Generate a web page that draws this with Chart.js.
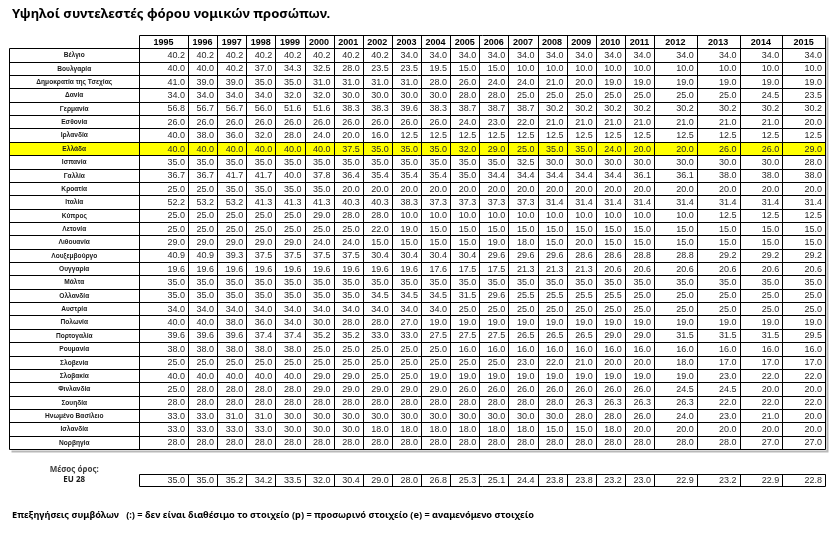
<!DOCTYPE html>
<html>
<head>
<meta charset="utf-8">
<script src="https://cdn.jsdelivr.net/npm/chart.js@4.4.1/dist/chart.umd.min.js"></script>
<style>
  html, body { margin: 0; padding: 0; background: #fff; }
  canvas { display: block; }
</style>
</head>
<body>
<canvas id="taxTable" width="830" height="536"></canvas>
<script>
// ---------------- DATA ----------------

const titleText = "Υψηλοί συντελεστές φόρου νομικών προσώπων.";
const noteText = "Επεξηγήσεις συμβόλων   (:) = δεν είναι διαθέσιμο το στοιχείο (p) = προσωρινό στοιχείο (e) = αναμενόμενο στοιχείο";

const years = ["1995", "1996", "1997", "1998", "1999", "2000", "2001", "2002", "2003", "2004", "2005",
               "2006", "2007", "2008", "2009", "2010", "2011", "2012", "2013", "2014", "2015"];

const countries = ["Βέλγιο", "Βουλγαρία", "Δημοκρατία της Τσεχίας", "Δανία", "Γερμανία", "Εσθονία",
                   "Ιρλανδία", "Ελλάδα", "Ισπανία", "Γαλλία", "Κροατία", "Ιταλία", "Κύπρος", "Λετονία",
                   "Λιθουανία", "Λουξεμβούργο", "Ουγγαρία", "Μάλτα", "Ολλανδία", "Αυστρία", "Πολωνία",
                   "Πορτογαλία", "Ρουμανία", "Σλοβενία", "Σλοβακία", "Φινλανδία", "Σουηδία",
                   "Ηνωμένο Βασίλειο", "Ισλανδία", "Νορβηγία"];

const belgium    = [40.2, 40.2, 40.2, 40.2, 40.2, 40.2, 40.2, 40.2, 34.0, 34.0, 34.0, 34.0, 34.0, 34.0, 34.0, 34.0, 34.0, 34.0, 34.0, 34.0, 34.0];
const bulgaria   = [40.0, 40.0, 40.2, 37.0, 34.3, 32.5, 28.0, 23.5, 23.5, 19.5, 15.0, 15.0, 10.0, 10.0, 10.0, 10.0, 10.0, 10.0, 10.0, 10.0, 10.0];
const czechia    = [41.0, 39.0, 39.0, 35.0, 35.0, 31.0, 31.0, 31.0, 31.0, 28.0, 26.0, 24.0, 24.0, 21.0, 20.0, 19.0, 19.0, 19.0, 19.0, 19.0, 19.0];
const denmark    = [34.0, 34.0, 34.0, 34.0, 32.0, 32.0, 30.0, 30.0, 30.0, 30.0, 28.0, 28.0, 25.0, 25.0, 25.0, 25.0, 25.0, 25.0, 25.0, 24.5, 23.5];
const germany    = [56.8, 56.7, 56.7, 56.0, 51.6, 51.6, 38.3, 38.3, 39.6, 38.3, 38.7, 38.7, 38.7, 30.2, 30.2, 30.2, 30.2, 30.2, 30.2, 30.2, 30.2];
const estonia    = [26.0, 26.0, 26.0, 26.0, 26.0, 26.0, 26.0, 26.0, 26.0, 26.0, 24.0, 23.0, 22.0, 21.0, 21.0, 21.0, 21.0, 21.0, 21.0, 21.0, 20.0];
const ireland    = [40.0, 38.0, 36.0, 32.0, 28.0, 24.0, 20.0, 16.0, 12.5, 12.5, 12.5, 12.5, 12.5, 12.5, 12.5, 12.5, 12.5, 12.5, 12.5, 12.5, 12.5];
const greece     = [40.0, 40.0, 40.0, 40.0, 40.0, 40.0, 37.5, 35.0, 35.0, 35.0, 32.0, 29.0, 25.0, 35.0, 35.0, 24.0, 20.0, 20.0, 26.0, 26.0, 29.0];
const spain      = [35.0, 35.0, 35.0, 35.0, 35.0, 35.0, 35.0, 35.0, 35.0, 35.0, 35.0, 35.0, 32.5, 30.0, 30.0, 30.0, 30.0, 30.0, 30.0, 30.0, 28.0];
const france     = [36.7, 36.7, 41.7, 41.7, 40.0, 37.8, 36.4, 35.4, 35.4, 35.4, 35.0, 34.4, 34.4, 34.4, 34.4, 34.4, 36.1, 36.1, 38.0, 38.0, 38.0];
const croatia    = [25.0, 25.0, 35.0, 35.0, 35.0, 35.0, 20.0, 20.0, 20.0, 20.0, 20.0, 20.0, 20.0, 20.0, 20.0, 20.0, 20.0, 20.0, 20.0, 20.0, 20.0];
const italy      = [52.2, 53.2, 53.2, 41.3, 41.3, 41.3, 40.3, 40.3, 38.3, 37.3, 37.3, 37.3, 37.3, 31.4, 31.4, 31.4, 31.4, 31.4, 31.4, 31.4, 31.4];
const cyprus     = [25.0, 25.0, 25.0, 25.0, 25.0, 29.0, 28.0, 28.0, 10.0, 10.0, 10.0, 10.0, 10.0, 10.0, 10.0, 10.0, 10.0, 10.0, 12.5, 12.5, 12.5];
const latvia     = [25.0, 25.0, 25.0, 25.0, 25.0, 25.0, 25.0, 22.0, 19.0, 15.0, 15.0, 15.0, 15.0, 15.0, 15.0, 15.0, 15.0, 15.0, 15.0, 15.0, 15.0];
const lithuania  = [29.0, 29.0, 29.0, 29.0, 29.0, 24.0, 24.0, 15.0, 15.0, 15.0, 15.0, 19.0, 18.0, 15.0, 20.0, 15.0, 15.0, 15.0, 15.0, 15.0, 15.0];
const luxembourg = [40.9, 40.9, 39.3, 37.5, 37.5, 37.5, 37.5, 30.4, 30.4, 30.4, 30.4, 29.6, 29.6, 29.6, 28.6, 28.6, 28.8, 28.8, 29.2, 29.2, 29.2];
const hungary    = [19.6, 19.6, 19.6, 19.6, 19.6, 19.6, 19.6, 19.6, 19.6, 17.6, 17.5, 17.5, 21.3, 21.3, 21.3, 20.6, 20.6, 20.6, 20.6, 20.6, 20.6];
const malta      = [35.0, 35.0, 35.0, 35.0, 35.0, 35.0, 35.0, 35.0, 35.0, 35.0, 35.0, 35.0, 35.0, 35.0, 35.0, 35.0, 35.0, 35.0, 35.0, 35.0, 35.0];
const netherlands= [35.0, 35.0, 35.0, 35.0, 35.0, 35.0, 35.0, 34.5, 34.5, 34.5, 31.5, 29.6, 25.5, 25.5, 25.5, 25.5, 25.0, 25.0, 25.0, 25.0, 25.0];
const austria    = [34.0, 34.0, 34.0, 34.0, 34.0, 34.0, 34.0, 34.0, 34.0, 34.0, 25.0, 25.0, 25.0, 25.0, 25.0, 25.0, 25.0, 25.0, 25.0, 25.0, 25.0];
const poland     = [40.0, 40.0, 38.0, 36.0, 34.0, 30.0, 28.0, 28.0, 27.0, 19.0, 19.0, 19.0, 19.0, 19.0, 19.0, 19.0, 19.0, 19.0, 19.0, 19.0, 19.0];
const portugal   = [39.6, 39.6, 39.6, 37.4, 37.4, 35.2, 35.2, 33.0, 33.0, 27.5, 27.5, 27.5, 26.5, 26.5, 26.5, 29.0, 29.0, 31.5, 31.5, 31.5, 29.5];
const romania    = [38.0, 38.0, 38.0, 38.0, 38.0, 25.0, 25.0, 25.0, 25.0, 25.0, 16.0, 16.0, 16.0, 16.0, 16.0, 16.0, 16.0, 16.0, 16.0, 16.0, 16.0];
const slovenia   = [25.0, 25.0, 25.0, 25.0, 25.0, 25.0, 25.0, 25.0, 25.0, 25.0, 25.0, 25.0, 23.0, 22.0, 21.0, 20.0, 20.0, 18.0, 17.0, 17.0, 17.0];
const slovakia   = [40.0, 40.0, 40.0, 40.0, 40.0, 29.0, 29.0, 25.0, 25.0, 19.0, 19.0, 19.0, 19.0, 19.0, 19.0, 19.0, 19.0, 19.0, 23.0, 22.0, 22.0];
const finland    = [25.0, 28.0, 28.0, 28.0, 28.0, 29.0, 29.0, 29.0, 29.0, 29.0, 26.0, 26.0, 26.0, 26.0, 26.0, 26.0, 26.0, 24.5, 24.5, 20.0, 20.0];
const sweden     = [28.0, 28.0, 28.0, 28.0, 28.0, 28.0, 28.0, 28.0, 28.0, 28.0, 28.0, 28.0, 28.0, 28.0, 26.3, 26.3, 26.3, 26.3, 22.0, 22.0, 22.0];
const unitedKingdom = [33.0, 33.0, 31.0, 31.0, 30.0, 30.0, 30.0, 30.0, 30.0, 30.0, 30.0, 30.0, 30.0, 30.0, 28.0, 28.0, 26.0, 24.0, 23.0, 21.0, 20.0];
const iceland    = [33.0, 33.0, 33.0, 33.0, 30.0, 30.0, 30.0, 18.0, 18.0, 18.0, 18.0, 18.0, 18.0, 15.0, 15.0, 18.0, 20.0, 20.0, 20.0, 20.0, 20.0];
const norway     = [28.0, 28.0, 28.0, 28.0, 28.0, 28.0, 28.0, 28.0, 28.0, 28.0, 28.0, 28.0, 28.0, 28.0, 28.0, 28.0, 28.0, 28.0, 28.0, 27.0, 27.0];

const eu28Label = "EU 28";
const eu28 = [35.0, 35.0, 35.2, 34.2, 33.5, 32.0, 30.4, 29.0, 28.0, 26.8, 25.3, 25.1, 24.4, 23.8, 23.8, 23.2, 23.0, 22.9, 23.2, 22.9, 22.8];

const countryRates = [belgium, bulgaria, czechia, denmark, germany, estonia, ireland, greece, spain,
                      france, croatia, italy, cyprus, latvia, lithuania, luxembourg, hungary, malta,
                      netherlands, austria, poland, portugal, romania, slovenia, slovakia, finland,
                      sweden, unitedKingdom, iceland, norway];

const highlightCountry = "Ελλάδα";

// ---------------- LAYOUT ----------------

// column widths (x units), first column is wider, last four too
const colWidths = years.map(function (y, i) {
    if (i === 0) return 49;
    if (+y >= 2012) return 42.75;
    return 29.125;
});
const colEdges = [0];
colWidths.forEach(function (w) { colEdges.push(colEdges[colEdges.length - 1] + w); });
const totalWidth = colEdges[colEdges.length - 1];

// rows: header = 0..1, countries 1..31, EU row a bit further down
const rowCount = countries.length + 1;
const euTop = 32.85;
const euBottom = 33.8;
const avgLabelRow = 32.55;

const labelLeft = 9.5;

// ---------------- DATASETS ----------------

const datasets = countryRates.map(function (rates, r) {
    return {
        label: countries[r],
        data: rates.map(function (v, c) {
            return { x: colEdges[c + 1], y: r + 1.5, v: v };
        }),
        pointRadius: 0,
        showLine: false
    };
});

datasets.push({
    label: eu28Label,
    data: eu28.map(function (v, c) {
        return { x: colEdges[c + 1], y: (euTop + euBottom) / 2, v: v };
    }),
    pointRadius: 0,
    showLine: false
});

// ---------------- TABLE PLUGIN ----------------

const tablePlugin = {
    id: "tablePlugin",

    beforeDatasetsDraw: function (chart) {
        const ctx = chart.ctx;
        const xs = chart.scales.x;
        const ys = chart.scales.y;
        const px = function (u) { return Math.round(xs.getPixelForValue(u)) + 0.5; };
        const py = function (u) { return Math.round(ys.getPixelForValue(u)) + 0.5; };

        const left = px(0), right = px(totalWidth);

        ctx.save();

        // yellow highlight row
        const hi = countries.indexOf(highlightCountry);
        if (hi >= 0) {
            ctx.fillStyle = "#ffff00";
            ctx.fillRect(labelLeft, py(hi + 1), right - labelLeft, py(hi + 2) - py(hi + 1));
        }

        // light shadow on the right and bottom
        ctx.strokeStyle = "#b8b8b8";
        ctx.lineWidth = 2;
        ctx.beginPath();
        ctx.moveTo(right + 2, py(0) + 2);
        ctx.lineTo(right + 2, py(rowCount) + 2);
        ctx.lineTo(labelLeft + 2, py(rowCount) + 2);
        ctx.stroke();

        ctx.strokeStyle = "#000";
        ctx.lineWidth = 1;
        ctx.beginPath();

        // horizontal lines
        for (let r = 0; r <= rowCount; r++) {
            const y = py(r);
            ctx.moveTo(r === 0 ? left : labelLeft, y);
            ctx.lineTo(right, y);
        }
        // vertical lines
        colEdges.forEach(function (e) {
            const x = px(e);
            ctx.moveTo(x, py(0));
            ctx.lineTo(x, py(rowCount));
        });
        ctx.moveTo(labelLeft, py(1));
        ctx.lineTo(labelLeft, py(rowCount));

        // EU 28 row box
        ctx.moveTo(left, py(euTop));
        ctx.lineTo(right, py(euTop));
        ctx.moveTo(left, py(euBottom));
        ctx.lineTo(right, py(euBottom));
        colEdges.forEach(function (e) {
            const x = px(e);
            ctx.moveTo(x, py(euTop));
            ctx.lineTo(x, py(euBottom));
        });
        ctx.stroke();

        ctx.restore();
    },

    afterDatasetsDraw: function (chart) {
        const ctx = chart.ctx;
        ctx.save();
        ctx.font = "9px 'Liberation Sans', Arial, sans-serif";
        ctx.fillStyle = "#2a2a2a";
        ctx.textAlign = "right";
        ctx.textBaseline = "middle";

        chart.data.datasets.forEach(function (ds, i) {
            const meta = chart.getDatasetMeta(i);
            meta.data.forEach(function (el, j) {
                ctx.fillText(ds.data[j].v.toFixed(1), el.x - 3, el.y + 0.5);
            });
        });
        ctx.restore();
    },

    afterDraw: function (chart) {
        const ctx = chart.ctx;
        const xs = chart.scales.x;
        const ys = chart.scales.y;
        const labelCenter = (labelLeft + xs.getPixelForValue(0)) / 2;

        ctx.save();
        ctx.textBaseline = "middle";

        // year headers
        ctx.font = "bold 9px 'Liberation Sans', Arial, sans-serif";
        ctx.fillStyle = "#000";
        ctx.textAlign = "center";
        years.forEach(function (y, i) {
            const cx = xs.getPixelForValue((colEdges[i] + colEdges[i + 1]) / 2);
            ctx.fillText(y, cx, ys.getPixelForValue(0.5) + 0.5);
        });

        // country names
        ctx.font = "bold 6.6px 'Liberation Sans', Arial, sans-serif";
        ctx.fillStyle = "#1a1a1a";
        countries.forEach(function (c, r) {
            ctx.fillText(c, labelCenter, ys.getPixelForValue(r + 1.5) + 0.5);
        });

        // EU average labels
        ctx.font = "bold 8px 'Noto Sans', sans-serif";
        ctx.fillStyle = "#404040";
        ctx.fillText("Μέσος όρος:", labelCenter, ys.getPixelForValue(avgLabelRow));
        ctx.fillStyle = "#1a1a1a";
        ctx.fillText(eu28Label, labelCenter, ys.getPixelForValue((euTop + euBottom) / 2));

        // title and footnote
        ctx.textAlign = "left";
        ctx.fillStyle = "#000";
        ctx.font = "bold 13.1px 'Noto Sans', sans-serif";
        ctx.fillText(titleText, 12, 14.5);

        ctx.font = "bold 9.2px 'Noto Sans', sans-serif";
        ctx.fillText(noteText, 12, 515);

        ctx.restore();
    }
};

// ---------------- CHART ----------------

const canvas = document.getElementById("taxTable");

new Chart(canvas, {
    type: "scatter",
    data: { datasets: datasets },
    options: {
        responsive: false,
        animation: false,
        devicePixelRatio: 1,
        layout: {
            padding: { left: 139, right: 5, top: 35, bottom: 87 }
        },
        scales: {
            x: { type: "linear", display: false, min: 0, max: totalWidth },
            y: { type: "linear", display: false, reverse: true, min: 0, max: rowCount }
        },
        plugins: {
            legend: { display: false },
            tooltip: { enabled: false }
        }
    },
    plugins: [tablePlugin]
});
</script>
</body>
</html>
